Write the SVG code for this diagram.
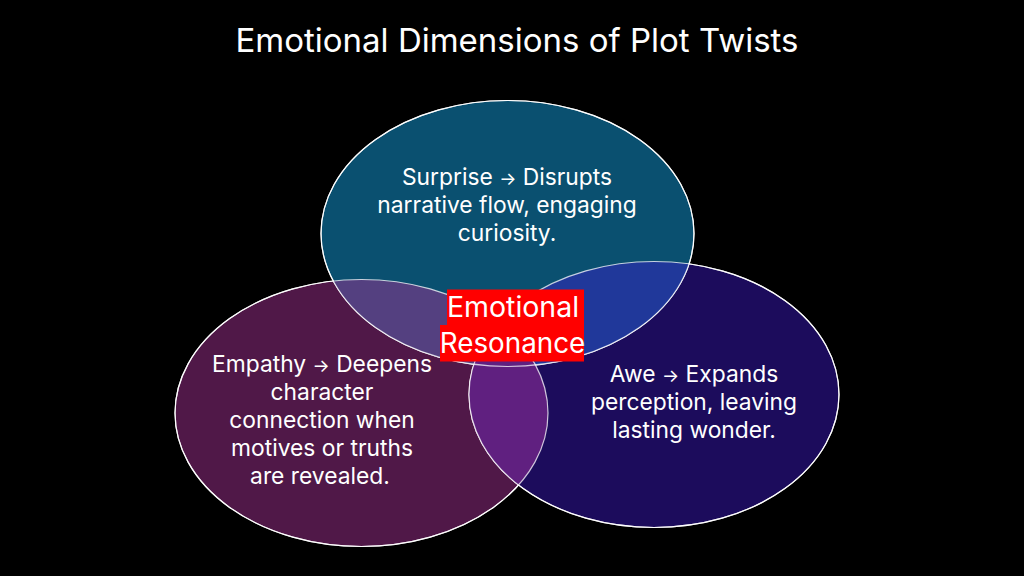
<svg xmlns="http://www.w3.org/2000/svg" width="1024" height="576" viewBox="0 0 1024 576">
<style>
text{font-family:"Inter","Liberation Sans",sans-serif;fill:#fff;text-anchor:middle}
.l{font-size:22.800px}
.c{font-size:27.800px}
.a{font-size:18px}
.e{stroke:#fff;stroke-width:1.2}
.o{fill:none;stroke:#fff;stroke-opacity:.75;stroke-width:1.2}
</style>
<rect width="1024" height="576" fill="#000"/>
<text id="title" x="517" y="52" font-size="33">Emotional Dimensions of Plot Twists</text>
<g id="connectors"/>
<g id="empathy"><ellipse class="e" cx="361.500" cy="413" rx="186.500" ry="133.500" fill="#501848"/></g>
<g id="awe"><ellipse class="e" cx="654" cy="394.500" rx="185" ry="133" fill="#1c0c5c"/></g>
<g id="surprise"><ellipse class="e" cx="507.500" cy="233.500" rx="186.500" ry="133" fill="#0a5070"/></g>
<g id="overlaps">
<clipPath id="cE"><ellipse cx="361.500" cy="413" rx="186.500" ry="133.500"/></clipPath>
<clipPath id="cA"><ellipse cx="654" cy="394.500" rx="185" ry="133"/></clipPath>
<ellipse cx="507.500" cy="233.500" rx="186.500" ry="133" fill="#544080" clip-path="url(#cE)"/>
<ellipse cx="507.500" cy="233.500" rx="186.500" ry="133" fill="#20389a" clip-path="url(#cA)"/>
<ellipse cx="361.500" cy="413" rx="186.500" ry="133.500" fill="#602080" clip-path="url(#cA)"/>
<ellipse class="o" cx="361.500" cy="413" rx="186.500" ry="133.500"/>
<ellipse class="o" cx="654" cy="394.500" rx="185" ry="133"/>
<ellipse class="o" cx="507.500" cy="233.500" rx="186.500" ry="133"/>
</g>
<g id="center"><rect x="447" y="289.500" width="137" height="36" fill="#ff0000"/><rect x="440" y="325" width="144" height="36.500" fill="#ff0000"/>
<text x="513" y="317" font-size="28.500">Emotional</text><text class="c" x="512.500" y="353">Resonance</text></g>
<g id="surprise-text"><text class="l" x="507" y="185">Surprise <tspan class="a">→</tspan> Disrupts</text><text class="l" x="507" y="213">narrative flow, engaging</text><text class="l" x="507" y="241">curiosity.</text></g>
<g id="empathy-text"><text class="l" x="322" y="372">Empathy <tspan class="a">→</tspan> Deepens</text><text class="l" x="322" y="400">character</text><text class="l" x="322" y="428">connection when</text><text class="l" x="322" y="456">motives or truths</text><text class="l" x="320" y="484">are revealed.</text></g>
<g id="awe-text"><text class="l" x="694" y="382">Awe <tspan class="a">→</tspan> Expands</text><text class="l" x="694" y="410">perception, leaving</text><text class="l" x="694" y="438">lasting wonder.</text></g>
</svg>
